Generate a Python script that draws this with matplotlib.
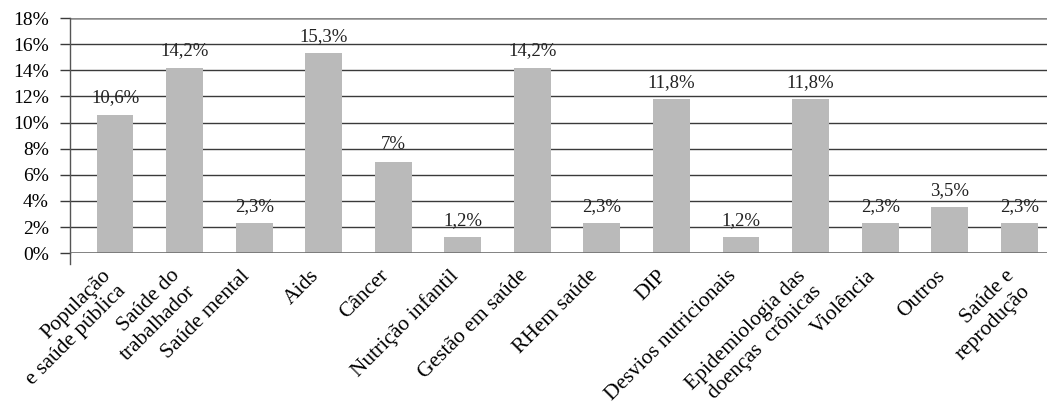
import matplotlib
matplotlib.use("Agg")
import matplotlib.pyplot as plt
import matplotlib.transforms as mtransforms

categories = [
    "População\ne saúde pública",
    "Saúde do\ntrabalhador",
    "Saúde mental",
    "Aids",
    "Câncer",
    "Nutrição infantil",
    "Gestão em saúde",
    "RHem saúde",
    "DIP",
    "Desvios nutricionais",
    "Epidemiologia das\ndoenças  crônicas",
    "Violência",
    "Outros",
    "Saúde e\nreprodução",
]
values = [10.6, 14.2, 2.3, 15.3, 7.0, 1.2, 14.2, 2.3, 11.8, 1.2, 11.8, 2.3, 3.5, 2.3]
value_labels = ["10,6%", "14,2%", "2,3%", "15,3%", "7%", "1,2%", "14,2%",
                "2,3%", "11,8%", "1,2%", "11,8%", "2,3%", "3,5%", "2,3%"]
y_ticks = [0, 2, 4, 6, 8, 10, 12, 14, 16, 18]
y_tick_labels = ["0%", "2%", "4%", "6%", "8%", "10%", "12%", "14%", "16%", "18%"]

SERIF = "Liberation Serif"
BAR_COLOR = "#bababa"
GRID_COLOR = "#3a3a3a"

fig = plt.figure(figsize=(10.5, 4.17), dpi=100)
ax = fig.add_axes([0.0667, 0.393, 0.9305, 0.5636])

x = list(range(len(categories)))
ax.bar(x, values, width=0.53, color=BAR_COLOR, zorder=2)

ax.set_xlim(-0.647, len(categories) - 1 + 0.40)
ax.set_ylim(0, 18)

# horizontal grid; y ticks extend the grid lines to the left of the axis
ax.set_yticks(y_ticks)
ax.set_yticklabels(y_tick_labels, fontfamily=SERIF, fontsize=14)
ax.yaxis.grid(True, color=GRID_COLOR, linewidth=1.0, zorder=1)
ax.set_axisbelow(True)
ax.tick_params(axis="y", direction="out", length=7.2, width=1.0,
               color=GRID_COLOR, pad=8)
gl = ax.get_ygridlines()
gl[-1].set_color("#8a8a8a")
gl[-1].set_linewidth(1.8)
ax.axhline(0, color="#6a6a6a", linewidth=1.8, zorder=3)

for side in ("top", "right", "bottom"):
    ax.spines[side].set_visible(False)
ax.spines["left"].set_color("#555555")
ax.spines["left"].set_linewidth(1.0)
ax.plot([0, 0], [-0.045, 0], transform=ax.transAxes, color="#555555",
        linewidth=1.0, clip_on=False)

# category labels
ax.set_xticks(x)
ax.set_xticklabels(categories, rotation=45, ha="right", va="top",
                   rotation_mode="anchor", multialignment="right",
                   fontfamily=SERIF, fontsize=15.5, linespacing=1.2)
ax.tick_params(axis="x", length=0, pad=9.5)
shift = mtransforms.ScaledTranslation(-14 / 100, 0, fig.dpi_scale_trans)
for lbl in ax.get_xticklabels():
    lbl.set_transform(lbl.get_transform() + shift)

# value labels above bars
for xi, v, txt in zip(x, values, value_labels):
    ax.annotate(txt, (xi, v), xytext=(0, 6), textcoords="offset points",
                ha="center", va="bottom", fontfamily=SERIF, fontsize=13.5,
                color="#222222")

fig.savefig("out.png", dpi=100)
